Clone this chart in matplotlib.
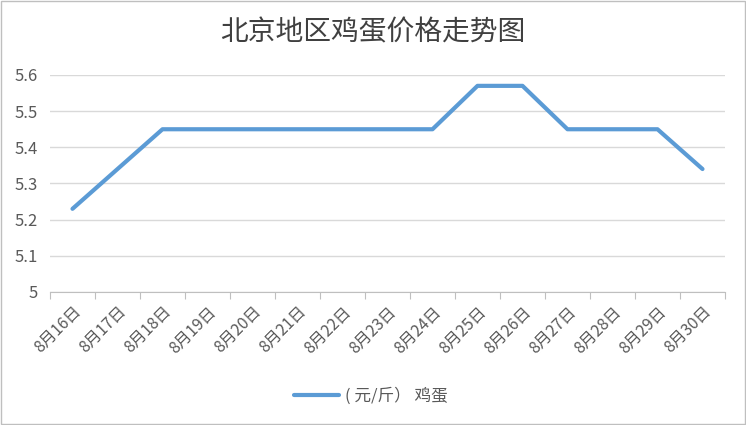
import matplotlib.pyplot as plt
from matplotlib.patches import Rectangle

plt.rcParams['font.family'] = ['Noto Sans CJK SC', 'DejaVu Sans']

dates = ['8月16日', '8月17日', '8月18日', '8月19日', '8月20日', '8月21日', '8月22日', '8月23日',
         '8月24日', '8月25日', '8月26日', '8月27日', '8月28日', '8月29日', '8月30日']
prices = [5.23, 5.34, 5.45, 5.45, 5.45, 5.45, 5.45, 5.45,
          5.45, 5.57, 5.57, 5.45, 5.45, 5.45, 5.34]
series_name = '( 元/斤） 鸡蛋'
title = '北京地区鸡蛋价格走势图'

text_color = '#595959'
line_color = '#5B9BD5'

fig = plt.figure(figsize=(7.46, 4.25), dpi=100)
ax = fig.add_axes([50 / 746, 1 - 292 / 425, 675 / 746, 217 / 425])

x = range(len(dates))
ax.plot(x, prices, color=line_color, lw=3, solid_capstyle='round', solid_joinstyle='round',
        label=series_name)

ax.set_xlim(-0.5, len(dates) - 0.5)
ax.set_ylim(5, 5.6)
ax.set_yticks([5, 5.1, 5.2, 5.3, 5.4, 5.5, 5.6])
ax.set_yticklabels(['5', '5.1', '5.2', '5.3', '5.4', '5.5', '5.6'])
ax.grid(axis='y', color='#D9D9D9', lw=1)
ax.set_axisbelow(True)

# tick marks on category boundaries, labels at the centres
ax.set_xticks([i - 0.5 for i in range(len(dates) + 1)])
ax.set_xticklabels([])
ax.set_xticks(list(x), minor=True)
ax.set_xticklabels(dates, minor=True, rotation=45, ha='right', va='top',
                   rotation_mode='anchor', fontsize=11.5, color=text_color)
ax.tick_params(axis='x', which='major', length=5, color='#BFBFBF', direction='out')
ax.tick_params(axis='x', which='minor', length=0, pad=8)
ax.tick_params(axis='y', length=0, labelsize=12, labelcolor=text_color, pad=9)

for s in ['top', 'right', 'left']:
    ax.spines[s].set_visible(False)
ax.spines['bottom'].set_color('#BFBFBF')

fig.text(0.5, 1 - 32 / 425, title, ha='center', va='center', fontsize=20,
         fontweight='medium', color='#404040')

fig.legend(loc='center', bbox_to_anchor=(0.497, 1 - 396 / 425), frameon=False,
           fontsize=12, labelcolor=text_color, handlelength=2.7, handletextpad=0.4)

fig.patches.append(Rectangle((0.001, 0.002), 0.997, 0.996, transform=fig.transFigure,
                             fill=False, edgecolor='#BFBFBF', lw=1))

fig.savefig('out.png', dpi=100)
